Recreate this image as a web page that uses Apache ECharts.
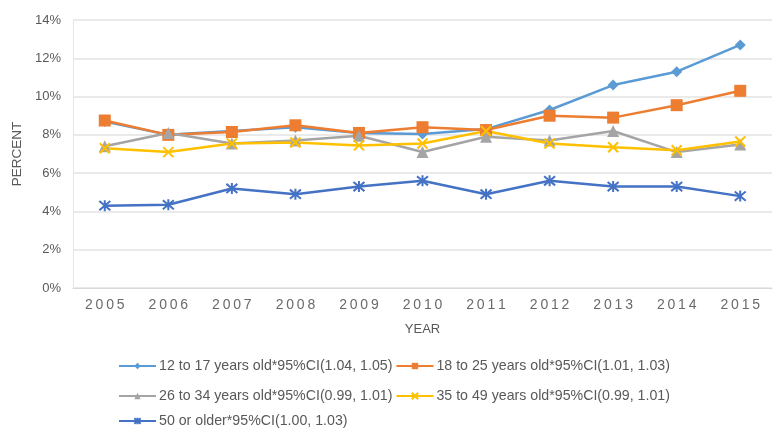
<!DOCTYPE html>
<html>
<head>
<meta charset="utf-8">
<script src="https://cdn.jsdelivr.net/npm/echarts@6/dist/echarts.min.js"></script>
<style>
  html, body { margin: 0; padding: 0; background: #fff; }
  #chart { width: 780px; height: 428px; }
</style>
</head>
<body>
<div id="chart"></div>
<script>
// Years on the horizontal axis
const years = ['2005', '2006', '2007', '2008', '2009', '2010', '2011', '2012', '2013', '2014', '2015'];

// Percent by age group
const age12to17 = [8.7, 8.0, 8.2, 8.4, 8.1, 8.05, 8.3, 9.3, 10.6, 11.3, 12.7];
const age18to25 = [8.75, 8.0, 8.15, 8.5, 8.1, 8.4, 8.25, 9.0, 8.9, 9.55, 10.3];
const age26to34 = [7.4, 8.1, 7.55, 7.7, 7.95, 7.1, 7.9, 7.7, 8.2, 7.1, 7.5];
const age35to49 = [7.3, 7.1, 7.55, 7.6, 7.45, 7.55, 8.2, 7.55, 7.35, 7.2, 7.65];
const age50plus = [4.3, 4.35, 5.2, 4.9, 5.3, 5.6, 4.9, 5.6, 5.3, 5.3, 4.8];

const seriesNames = [
  '12 to 17 years old*95%CI(1.04, 1.05)',
  '18 to 25 years old*95%CI(1.01, 1.03)',
  '26 to 34 years old*95%CI(0.99, 1.01)',
  '35 to 49 years old*95%CI(0.99, 1.01)',
  '50 or older*95%CI(1.00, 1.03)'
];

const yTicks = [0, 2, 4, 6, 8, 10, 12, 14];

const chart = echarts.init(document.getElementById('chart'), null, { renderer: 'canvas' });

const textColor = '#595959';
const font = 'Liberation Sans, Arial, sans-serif';

function lineSeries(name, data, color, symbol, size, extraItem) {
  return {
    name: name,
    type: 'line',
    data: data,
    symbol: symbol,
    symbolSize: size,
    showAllSymbol: true,
    lineStyle: { color: color, width: 2.5 },
    itemStyle: Object.assign({ color: color }, extraItem || {}),
    emphasis: { disabled: true },
    animation: false
  };
}

// open markers drawn with the series border colour
const xMark = 'path://M0,0L10,10M10,0L0,10';
const starMark = 'path://M0,0L10,10M10,0L0,10M5,-1L5,11';

const legendBase = {
  itemWidth: 37,
  itemHeight: 8,
  itemGap: 3,
  textStyle: { color: textColor, fontSize: 14.2, fontFamily: font, padding: [0, 0, 0, -2] },
  left: 113
};

const option = {
  backgroundColor: '#fff',
  animation: false,
  grid: { left: 73, right: 8, top: 20, bottom: 140, containLabel: false },
  legend: [
    Object.assign({}, legendBase, { top: 354, data: [seriesNames[0], seriesNames[1]] }),
    Object.assign({}, legendBase, { top: 384, data: [seriesNames[2], seriesNames[3]] }),
    Object.assign({}, legendBase, { top: 409, data: [seriesNames[4]] })
  ],
  xAxis: {
    type: 'category',
    data: years,
    boundaryGap: true,
    name: 'YEAR',
    nameLocation: 'middle',
    nameGap: 35,
    nameTextStyle: { color: textColor, fontSize: 13, fontFamily: font },
    axisLine: { show: true, lineStyle: { color: '#d9d9d9' } },
    axisTick: { show: false },
    axisLabel: {
      color: '#6a6a6a',
      fontSize: 14,
      fontFamily: font,
      margin: 10,
      formatter: v => v.split('').join('\u2009')
    }
  },
  yAxis: {
    type: 'value',
    min: yTicks[0],
    max: yTicks[yTicks.length - 1],
    interval: 2,
    name: 'PERCENT',
    nameLocation: 'middle',
    nameGap: 47,
    nameRotate: 90,
    nameTextStyle: { color: textColor, fontSize: 13.5, fontFamily: font },
    axisLine: { show: true, lineStyle: { color: '#e6e6e6' } },
    axisTick: { show: false },
    axisLabel: {
      color: textColor,
      fontSize: 13,
      fontFamily: font,
      margin: 12,
      formatter: v => v + '%'
    },
    splitLine: { lineStyle: { color: '#e3e3e3', width: 1.5 } }
  },
  series: [
    lineSeries(seriesNames[0], age12to17, '#5B9BD5', 'diamond', 11),
    lineSeries(seriesNames[1], age18to25, '#ED7D31', 'rect', 12),
    lineSeries(seriesNames[2], age26to34, '#A5A5A5', 'triangle', 12),
    lineSeries(seriesNames[3], age35to49, '#FFC000', xMark, 10, { borderColor: '#FFC000', borderWidth: 2 }),
    lineSeries(seriesNames[4], age50plus, '#4472C4', starMark, 11, { borderColor: '#4472C4', borderWidth: 2 })
  ]
};

chart.setOption(option);
</script>
</body>
</html>
